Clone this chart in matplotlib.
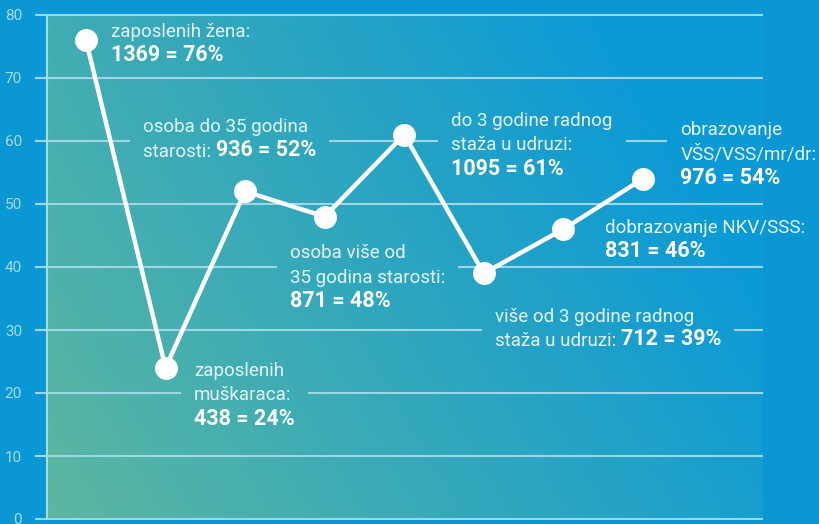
import numpy as np
from matplotlib import pyplot as plt
from matplotlib.colors import to_rgb
from matplotlib.transforms import Bbox

# values (percent)
values = [76, 24, 52, 48, 61, 39, 46, 54]
yticks = [0, 10, 20, 30, 40, 50, 60, 70, 80]

# label blocks: normal lines, then (normal prefix, bold part) for the last line
label_lines = [
    ["zaposlenih žena:"],
    ["osoba do 35 godina"],
    ["osoba više od", "35 godina starosti:"],
    ["do 3 godine radnog", "staža u udruzi:"],
    ["obrazovanje", "VŠS/VSS/mr/dr:"],
    ["dobrazovanje NKV/SSS:"],
    ["više od 3 godine radnog"],
    ["zaposlenih", "muškaraca:"],
]
label_last = [
    ("", "1369 = 76%"),
    ("starosti: ", "936 = 52%"),
    ("", "871 = 48%"),
    ("", "1095 = 61%"),
    ("", "976 = 54%"),
    ("", "831 = 46%"),
    ("staža u udruzi: ", "712 = 39%"),
    ("", "438 = 24%"),
]
# baseline of the first line of each block, data units
label_pos = [(0.31, 76.5), (0.72, 61.4), (2.56, 41.4), (4.59, 62.4),
             (7.47, 61.0), (6.53, 45.4), (5.14, 31.3), (1.36, 22.7)]

outer = '#0a97d3'
grid_c = '#9fd6e6'
txt_c = '#e3f3f8'
font = 'Roboto'
fs = 13.5
fsb = 15.5
lh = 17.6  # baseline spacing in points

fig = plt.figure(figsize=(8.2, 5.24), dpi=100, facecolor=outer)
ax = fig.add_axes([47/820, 5/524, (763-47)/820, (519-15)/524])
ax.set_facecolor(outer)

x = np.arange(len(values))
ax.set_xlim(-0.49, 8.51)
ax.set_ylim(0, 80)

# background gradient, green bottom-left to blue top-right
c0 = np.array(to_rgb('#5db7a0'))
c1 = np.array(to_rgb('#0c9ad6'))
gx, gy = np.meshgrid(np.linspace(0, 1, 300), np.linspace(0, 1, 200))
t = np.clip(gx*0.85 + gy*0.35, 0, 1)[..., None]
img = c0*(1-t) + c1*t
ax.imshow(img, extent=[-0.49, 8.51, 0, 80], origin='lower', aspect='auto', zorder=0)

for s in ['top', 'right', 'bottom']:
    ax.spines[s].set_visible(False)
ax.spines['left'].set_color('#a8dcdf')
ax.spines['left'].set_linewidth(1.5)

ax.set_xticks([])
ax.set_yticks(yticks)
ax.set_yticklabels([str(v) for v in yticks], family=font,
                   fontsize=11, color='#a6daee')
ax.tick_params(axis='y', length=9, width=1.5, color=grid_c, pad=9)

ax.plot(x, values, color='white', lw=3.2, marker='o', ms=15.5,
        mec='white', mfc='white', zorder=5, clip_on=False)

# labels
blocks = []
for lines, (pre, bold), pos in zip(label_lines, label_last, label_pos):
    arts = []
    for i, s in enumerate(lines):
        arts.append(ax.annotate(s, pos, xytext=(0, -i*lh), textcoords='offset points',
                                va='baseline', ha='left', family=font,
                                fontsize=fs, color=txt_c, zorder=6))
    i = len(lines)
    if pre:
        p = ax.annotate(pre, pos, xytext=(0, -i*lh), textcoords='offset points',
                        va='baseline', ha='left', family=font,
                        fontsize=fs, color=txt_c, zorder=6)
        arts.append(p)
        arts.append(ax.annotate(bold, (1, 0), xycoords=p, va='bottom', ha='left',
                                family=font, fontweight='bold', fontsize=fsb,
                                color='white', zorder=6))
    else:
        arts.append(ax.annotate(bold, pos, xytext=(0, -i*lh), textcoords='offset points',
                                va='baseline', ha='left', family=font, fontweight='bold',
                                fontsize=fsb, color='white', zorder=6))
    blocks.append(arts)

# grid lines broken where a label block sits on them
fig.canvas.draw()
r = fig.canvas.get_renderer()
boxes = [Bbox.union([a.get_window_extent(r) for a in arts]) for arts in blocks]
inv = ax.transData.inverted()
pad = 13
for v in yticks:
    yd = ax.transData.transform((0, v))[1]
    segs = [[-0.49, 8.51]]
    for b in boxes:
        if b.y0 - 1 <= yd <= b.y1 + 1:
            g0 = inv.transform((b.x0 - pad, yd))[0]
            g1 = inv.transform((b.x1 + pad, yd))[0]
            new = []
            for a0, a1 in segs:
                if g1 <= a0 or g0 >= a1:
                    new.append([a0, a1])
                else:
                    if g0 > a0:
                        new.append([a0, g0])
                    if g1 < a1:
                        new.append([g1, a1])
            segs = new
    for a0, a1 in segs:
        ax.plot([a0, a1], [v, v], color=grid_c, lw=1.5, zorder=1, clip_on=False,
                solid_capstyle='butt')

fig.savefig('out.png', dpi=100, facecolor=outer)
